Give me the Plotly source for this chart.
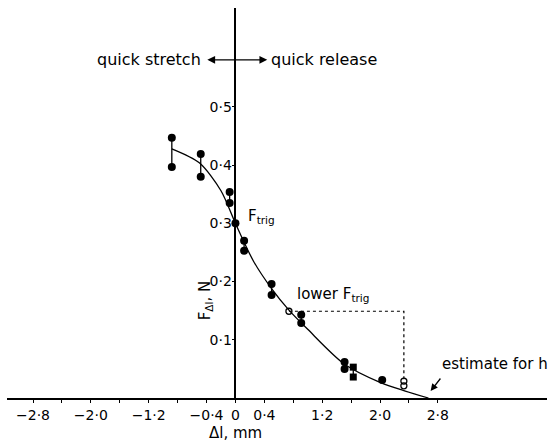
import plotly.graph_objects as go

# Paired force readings (length step in mm, force in N)
pair_x = [-0.88, -0.48, -0.08, 0.12, 0.50, 0.91, 1.51]
pair_hi = [0.447, 0.419, 0.354, 0.270, 0.196, 0.143, 0.062]
pair_lo = [0.397, 0.380, 0.335, 0.253, 0.177, 0.129, 0.050]

# Single filled readings
single_x = [0.0, 2.03]
single_y = [0.300, 0.031]

# Square-marked pair
square_x = [1.63, 1.63]
square_y = [0.053, 0.036]

# Open-circle readings (lower trigger level and its release point)
open_x = [0.74, 2.33, 2.33]
open_y = [0.149, 0.029, 0.021]

# Fitted curve through the data
curve_x = [-0.88, -0.50, -0.20, 0.0, 0.25, 0.50, 0.74, 1.00, 1.50, 2.00, 2.35, 2.67]
curve_y = [0.428, 0.404, 0.356, 0.300, 0.235, 0.188, 0.151, 0.118, 0.059, 0.027, 0.012, 0.0]

# Dashed construction from the lower trigger force
lower_x = [0.74, 2.33, 2.33]
lower_y = [0.149, 0.149, 0.029]

# Axis ticks
x_ticks = [-2.8, -2.0, -1.2, -0.4, 0.0, 0.4, 1.2, 2.0, 2.8]
x_labels = ["−2·8", "−2·0", "−1·2", "−0·4", "0", "0·4", "1·2", "2·0", "2·8"]
x_minor = [-2.4, -1.6, -0.8, 0.8, 1.6, 2.4]
y_ticks = [0.1, 0.2, 0.3, 0.4, 0.5]
y_labels = ["0·1", "0·2", "0·3", "0·4", "0·5"]

X_RANGE = [-3.16, 4.31]
Y_RANGE = [0.0, 0.67]
FONT = "DejaVu Sans"
INK = "black"

fig = go.Figure()

# vertical connectors between paired readings
conn_x, conn_y = [], []
for x, hi, lo in zip(pair_x + [square_x[0]], pair_hi + [square_y[0]], pair_lo + [square_y[1]]):
    conn_x += [x, x, None]
    conn_y += [hi, lo, None]
fig.add_trace(go.Scatter(x=conn_x, y=conn_y, mode="lines",
                         line=dict(color=INK, width=1.3), hoverinfo="skip"))

fig.add_trace(go.Scatter(x=curve_x, y=curve_y, mode="lines",
                         line=dict(color=INK, width=1.3, shape="spline", smoothing=0.8)))

fig.add_trace(go.Scatter(x=lower_x, y=lower_y, mode="lines",
                         line=dict(color=INK, width=1.2, dash="3px,3px")))

fig.add_trace(go.Scatter(x=pair_x + pair_x, y=pair_hi + pair_lo, mode="markers",
                         marker=dict(symbol="circle", size=8, color=INK)))
fig.add_trace(go.Scatter(x=single_x, y=single_y, mode="markers",
                         marker=dict(symbol="circle", size=8, color=INK)))
fig.add_trace(go.Scatter(x=square_x, y=square_y, mode="markers",
                         marker=dict(symbol="square", size=7, color=INK)))
fig.add_trace(go.Scatter(x=open_x, y=open_y, mode="markers",
                         marker=dict(symbol="circle-open", size=6, color=INK,
                                     line=dict(width=1.3))))

txt = dict(family=FONT, size=15, color=INK)
annotations = [
    dict(x=-0.45, y=0.581, text="quick stretch", showarrow=False,
         xanchor="right", yanchor="middle", font=dict(family=FONT, size=16, color=INK)),
    dict(x=0.47, y=0.581, text="quick release", showarrow=False,
         xanchor="left", yanchor="middle", font=dict(family=FONT, size=16, color=INK)),
    dict(x=0.44, y=0.581, ax=-0.41, ay=0.581, axref="x", ayref="y", text="",
         showarrow=True, arrowhead=2, startarrowhead=2, arrowside="end+start",
         arrowsize=1.2, arrowwidth=1.3, arrowcolor=INK),
    dict(x=0.14, y=0.312, text="F<sub>trig</sub>", showarrow=False,
         xanchor="left", yanchor="middle", font=txt),
    dict(x=0.82, y=0.178, text="lower F<sub>trig</sub>", showarrow=False,
         xanchor="left", yanchor="middle", font=txt),
    dict(x=2.83, y=0.059, text="estimate for h", showarrow=False,
         xanchor="left", yanchor="middle", font=txt),
    dict(x=2.70, y=0.012, ax=11, ay=-14, text="", showarrow=True,
         arrowhead=2, arrowsize=1.1, arrowwidth=1.3, arrowcolor=INK),
    dict(x=-0.42, y=0.168, text="F<sub>Δl</sub>, N", showarrow=False, textangle=-90,
         xanchor="center", yanchor="middle", font=txt),
    dict(x=0.0, y=0.0, yshift=-35, text="Δl, mm", showarrow=False,
         xanchor="center", yanchor="middle", font=txt),
]

fig.update_layout(
    width=551, height=443,
    margin=dict(l=7, r=4, t=8, b=45),
    paper_bgcolor="white", plot_bgcolor="white",
    showlegend=False,
    annotations=annotations,
    font=dict(family=FONT, color=INK),
    xaxis=dict(range=X_RANGE, showgrid=False, zeroline=False,
               showline=True, linecolor=INK, linewidth=1.5,
               ticks="outside", ticklen=3, tickwidth=1.2, tickcolor=INK,
               tickvals=x_ticks, ticktext=x_labels,
               minor=dict(tickvals=x_minor, ticks="outside", ticklen=3,
                          tickwidth=1.2, tickcolor=INK, showgrid=False),
               tickfont=dict(family=FONT, size=14, color=INK)),
    yaxis=dict(range=Y_RANGE, showgrid=False, zeroline=False,
               anchor="free", position=(0 - X_RANGE[0]) / (X_RANGE[1] - X_RANGE[0]),
               showline=True, linecolor=INK, linewidth=1.5,
               ticks="outside", ticklen=3, tickwidth=1.2, tickcolor=INK,
               tickvals=y_ticks, ticktext=y_labels, ticklabelstandoff=-3,
               tickfont=dict(family=FONT, size=14, color=INK)),
)

fig.write_html("out.html")
